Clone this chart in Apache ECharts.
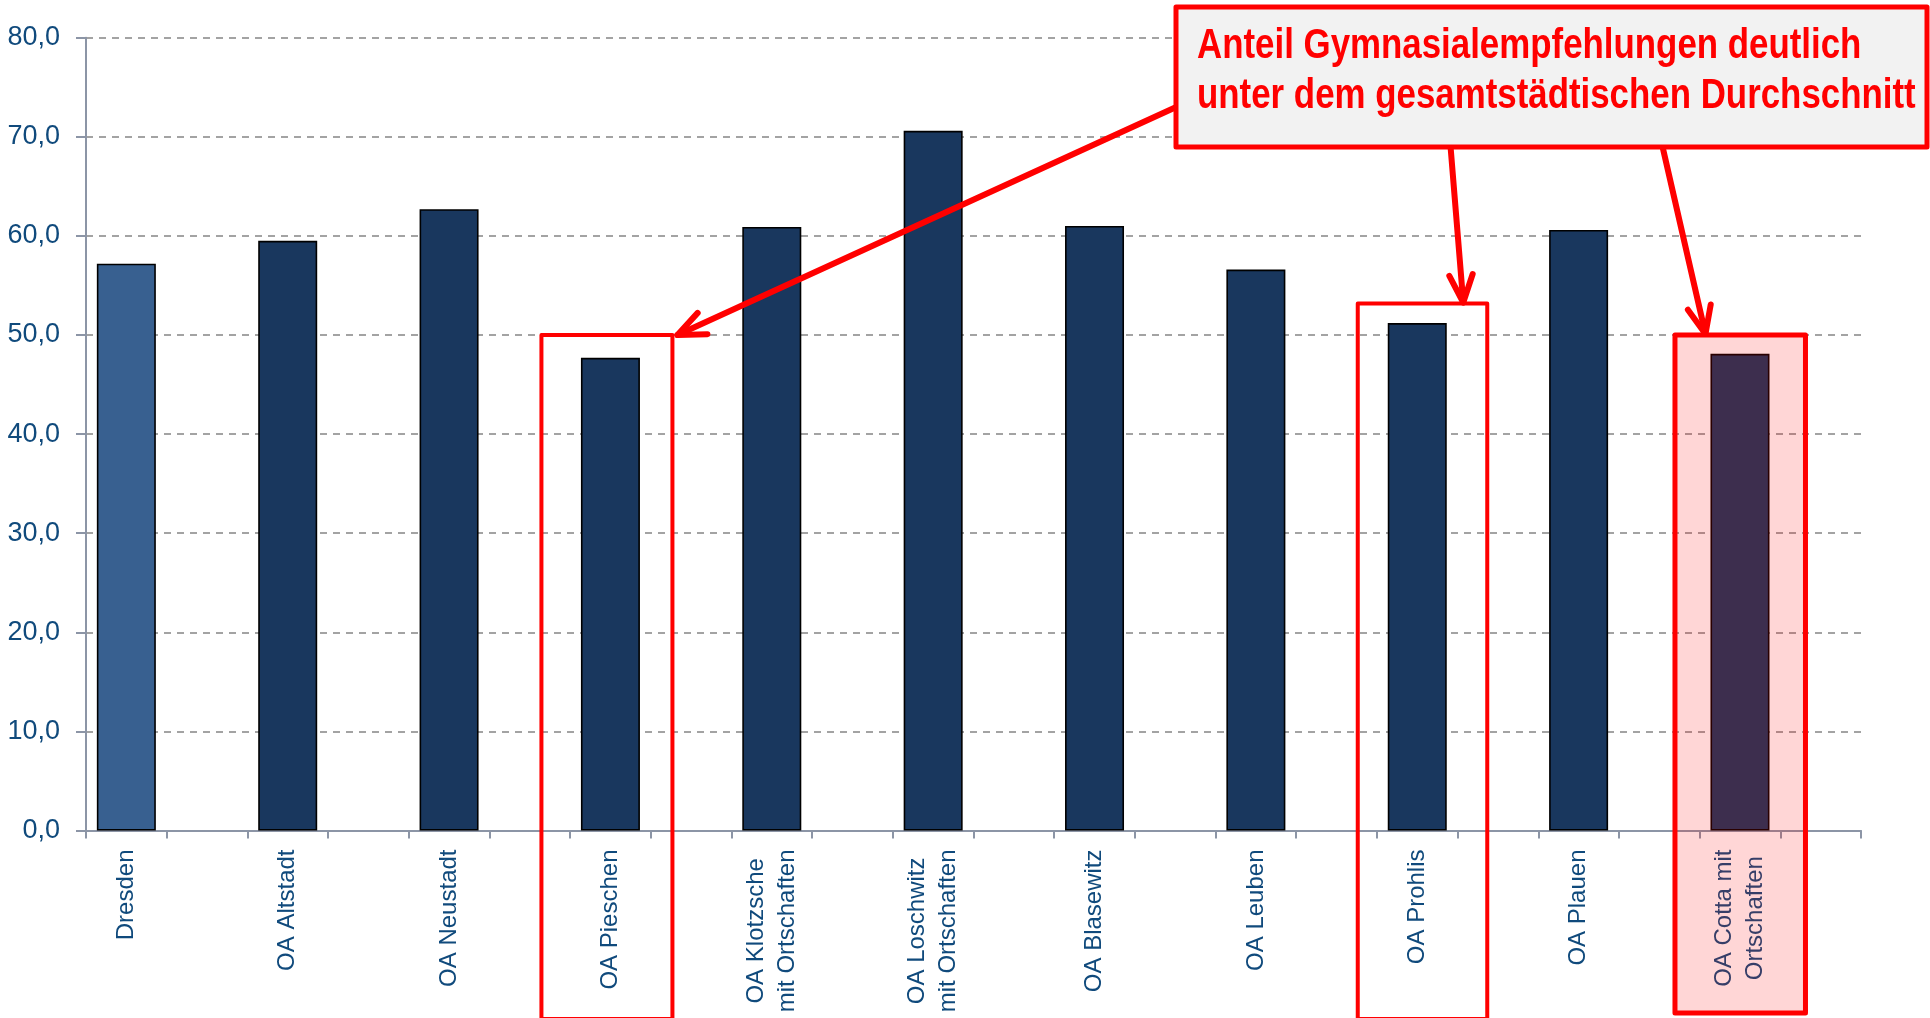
<!DOCTYPE html>
<html>
<head>
<meta charset="utf-8">
<script src="https://cdn.jsdelivr.net/npm/echarts@6/dist/echarts.min.js"></script>
<style>
html,body{margin:0;padding:0;background:#fff;}
#c{width:1930px;height:1018px;}
</style>
</head>
<body>
<div id="c"></div>
<script>
// ---- data ----
const categories = ['Dresden','OA Altstadt','OA Neustadt','OA Pieschen','OA Klotzsche\nmit Ortschaften','OA Loschwitz\nmit Ortschaften','OA Blasewitz','OA Leuben','OA Prohlis','OA Plauen','OA Cotta mit\nOrtschaften'];
const values = [57.2, 59.5, 62.7, 47.7, 60.9, 70.6, 61.0, 56.6, 51.2, 60.6, 48.1];
const yTicks = [0,10,20,30,40,50,60,70,80];
const calloutText = ['Anteil Gymnasialempfehlungen deutlich','unter dem gesamtstädtischen Durchschnitt'];

const SANS = '"Liberation Sans", Arial, sans-serif';
const LABEL = '#104a7c';
const AXIS = '#8c95a6';
const RED = '#ff0000';

// Excel layout: each district followed by an empty slot
const xCats = [], xData = [];
categories.forEach((c, i) => {
  xCats.push(c); xCats.push('');
  const col = i === 0 ? '#386090' : '#19375e';
  xData.push({value: values[i], itemStyle: {color: col}});
  xData.push('-');
});

const chart = echarts.init(document.getElementById('c'));
chart.setOption({
  animation: false,
  backgroundColor: '#fff',
  grid: {left: 86, right: 69, top: 37.7, bottom: 187.5, containLabel: false, outerBoundsMode: 'none'},
  xAxis: {
    type: 'category', data: xCats, boundaryGap: true,
    axisLine: {lineStyle: {color: AXIS, width: 2}},
    axisTick: {show: true, interval: 0, length: 8, lineStyle: {color: AXIS, width: 2}},
    axisLabel: {
      interval: 0, rotate: 90, margin: 19,
      fontFamily: SANS, fontSize: 24, color: LABEL,
      formatter: v => v ? v.split('\n').map(s => '{c|' + s + '}').join('\n') : '',
      rich: {c: {align: 'center', fontFamily: SANS, fontSize: 24, color: LABEL, lineHeight: 31}}
    },
    splitLine: {show: false}
  },
  yAxis: {
    type: 'value', min: yTicks[0], max: yTicks[yTicks.length - 1], interval: 10,
    axisLine: {show: true, lineStyle: {color: AXIS, width: 2}},
    axisTick: {show: true, length: 10, lineStyle: {color: AXIS, width: 2}},
    axisLabel: {margin: 26, fontFamily: SANS, fontSize: 27, color: LABEL,
      formatter: v => v.toFixed(1).replace('.', ',')},
    splitLine: {show: true, lineStyle: {color: '#a3a3a3', width: 2, type: [7, 6]}}
  },
  series: [{
    type: 'bar', data: xData, barWidth: 59,
    itemStyle: {borderColor: '#000', borderWidth: 1.6},
    z: 2
  }]
});

// ---- annotations, positioned from the axes ----
function cx(i) { return chart.convertToPixel({xAxisIndex: 0}, i * 2); }
function cy(v) { return chart.convertToPixel({yAxisIndex: 0}, v); }
const y50 = cy(50);
const xP = cx(3), xPr = cx(8), xC = cx(10);

const boxes = [
  {l: xP - 69, r: xP + 62, t: y50, b: 1019, fill: 'transparent', w: 4},
  {l: xPr - 59.5, r: xPr + 70, t: y50 - 31.5, b: 1019, fill: 'transparent', w: 4},
  {l: xC - 65, r: xC + 65.5, t: y50, b: 1013, fill: 'rgba(255,0,0,0.16)', w: 5}
];
const callout = {l: 1176, t: 7, r: 1927, b: 147};

function arrow(x1, y1, x2, y2) {
  const ang = Math.atan2(y1 - y2, x1 - x2);
  const L = 30, h = 23 * Math.PI / 180;
  const a1 = [x2 + L * Math.cos(ang + h), y2 + L * Math.sin(ang + h)];
  const a2 = [x2 + L * Math.cos(ang - h), y2 + L * Math.sin(ang - h)];
  const st = {stroke: RED, lineWidth: 6, lineCap: 'round', lineJoin: 'round', fill: null};
  return [
    {type: 'line', shape: {x1: x1, y1: y1, x2: x2, y2: y2}, style: st, z: 100},
    {type: 'polyline', shape: {points: [a1, [x2, y2], a2]}, style: st, z: 100}
  ];
}

const els = [];
boxes.forEach(b => els.push({
  type: 'rect', shape: {x: b.l, y: b.t, width: b.r - b.l, height: b.b - b.t},
  style: {fill: b.fill, stroke: RED, lineWidth: b.w, lineJoin: 'round'}, z: 99
}));
els.push(...arrow(1185, 103, boxes[0].r + 5, y50));
els.push(...arrow(1450, 140, xPr + 46, boxes[1].t - 1));
els.push(...arrow(1661, 140, xC - 34.5, y50 - 1));
els.push({
  type: 'rect', shape: {x: callout.l, y: callout.t, width: callout.r - callout.l, height: callout.b - callout.t},
  style: {fill: '#f2f2f2', stroke: RED, lineWidth: 5, lineJoin: 'round'}, z: 101
});
els.push({
  type: 'text', x: 1197, y: 21, scaleX: 0.83, z: 102,
  style: {text: calloutText.join('\n'), fill: RED, font: 'bold 42px ' + SANS,
    lineHeight: 50, textVerticalAlign: 'top', textAlign: 'left'}
});
chart.setOption({graphic: {elements: els}});
</script>
</body>
</html>
